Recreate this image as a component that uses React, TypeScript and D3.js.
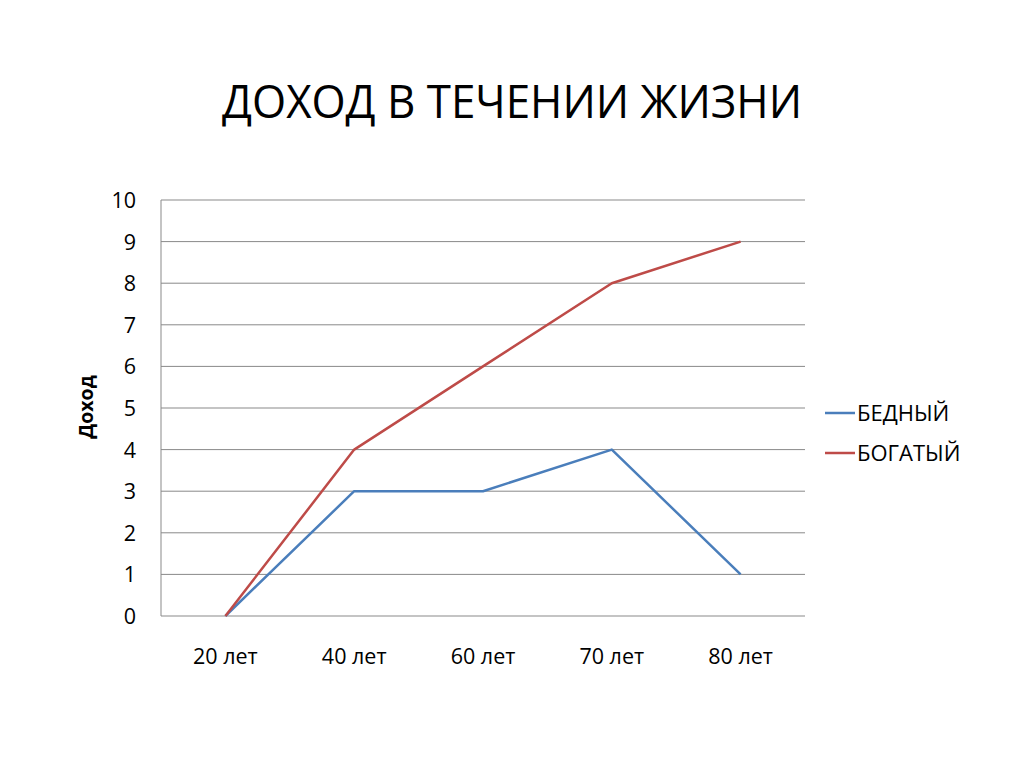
import React from 'react';
import * as d3 from 'd3';

const categories = ['20 лет', '40 лет', '60 лет', '70 лет', '80 лет'];
const poorValues = [0, 3, 3, 4, 1];
const richValues = [0, 4, 6, 8, 9];
const yTicks = [0, 1, 2, 3, 4, 5, 6, 7, 8, 9, 10];
const seriesNames = ['БЕДНЫЙ', 'БОГАТЫЙ'];
const seriesColors = ['#4A7EBB', '#BE4B48'];

const FONT = '"Open Sans", "Liberation Sans", sans-serif';

export default function App() {
  const width = 1024;
  const height = 768;
  const plot = { left: 161, right: 805, top: 200, bottom: 616 };

  const x = d3.scaleBand<string>().domain(categories).range([plot.left, plot.right]);
  const y = d3.scaleLinear().domain([0, 10]).range([plot.bottom, plot.top]);

  const line = d3.line<number>()
    .x((_, i) => (x(categories[i]) ?? 0) + x.bandwidth() / 2)
    .y(d => y(d));

  const series = [poorValues, richValues];

  return (
    <svg width={width} height={height} style={{ position: 'absolute', left: 0, top: 0, background: '#fff' }}>
      <text x={512} y={118} textAnchor="middle" fontFamily={FONT} fontSize={46}
        textLength={580} lengthAdjust="spacingAndGlyphs" fill="#000">
        ДОХОД В ТЕЧЕНИИ ЖИЗНИ
      </text>

      {/* gridlines */}
      {yTicks.map(t => (
        <line key={t} x1={plot.left} x2={plot.right} y1={y(t)} y2={y(t)} stroke="#898989" strokeWidth={1} />
      ))}
      <line x1={plot.left} x2={plot.left} y1={plot.top} y2={plot.bottom} stroke="#898989" strokeWidth={1} />

      {/* y tick labels */}
      {yTicks.map(t => (
        <text key={t} x={136} y={y(t)} dy="0.37em" textAnchor="end" fontFamily={FONT} fontSize={21.5} fill="#000">
          {t}
        </text>
      ))}

      {/* x labels */}
      {categories.map(c => (
        <text key={c} x={(x(c) ?? 0) + x.bandwidth() / 2} y={664} textAnchor="middle" fontFamily={FONT} fontSize={21.5} fill="#000">
          {c}
        </text>
      ))}

      <text transform="translate(93,407) rotate(-90)" textAnchor="middle" fontFamily={FONT} fontSize={19.5}
        fontWeight="bold" fill="#000">
        Доход
      </text>

      {series.map((s, i) => (
        <path key={i} d={line(s) ?? ''} fill="none" stroke={seriesColors[i]} strokeWidth={2.5} strokeLinejoin="round" />
      ))}

      {/* legend */}
      {seriesNames.map((n, i) => (
        <g key={n} transform={`translate(825, ${413 + i * 40})`}>
          <line x1={0} x2={30} y1={0} y2={0} stroke={seriesColors[i]} strokeWidth={2.5} />
          <text x={32} y={0} dy="0.37em" fontFamily={FONT} fontSize={22} fill="#000">{n}</text>
        </g>
      ))}
    </svg>
  );
}
